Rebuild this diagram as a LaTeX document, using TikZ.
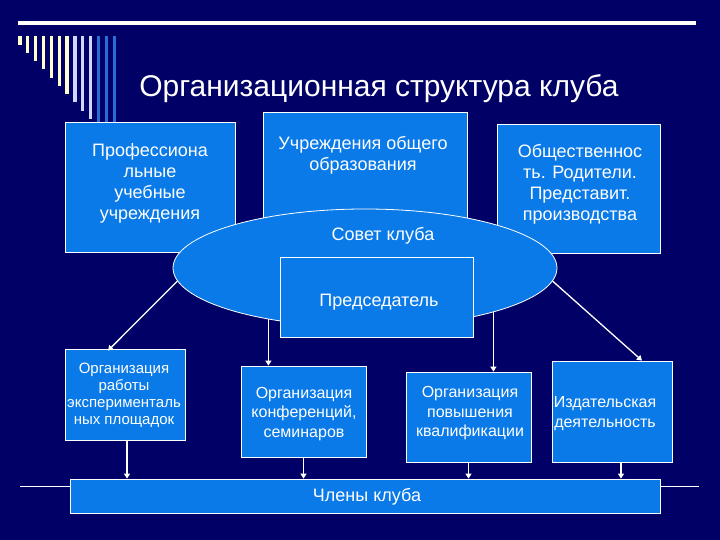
\documentclass[tikz,border=0pt]{standalone}
\usepackage{fontspec}
\setmainfont{Liberation Sans}
\usetikzlibrary{shapes.geometric,arrows.meta,calc}
\definecolor{bg}{RGB}{0,0,102}
\definecolor{boxblue}{RGB}{10,122,232}
\definecolor{pale}{RGB}{255,255,204}
\definecolor{lav}{RGB}{210,214,255}
\definecolor{stripeblue}{RGB}{40,110,215}
\begin{document}
\begin{tikzpicture}[x=1pt,y=-1pt,
  bluebox/.style={draw=white,line width=0.8pt,fill=boxblue,rectangle,inner sep=0pt},
  lbl/.style={text=white,align=center,inner sep=0pt,font=\fontsize{18}{21}\selectfont},
  smalllbl/.style={text=white,align=center,inner sep=0pt,font=\fontsize{16}{19.5}\selectfont},
  conn/.style={draw=white,line width=1.3pt,-{Triangle[width=6pt,length=5pt]}},
]
\fill[bg] (0,0) rectangle (720,540);
\useasboundingbox (0,0) rectangle (720,540);
% top line and stripes
\fill[white] (18,21.5) rectangle (696,25.5);
\foreach \i/\b/\c in {0/45/pale,1/53/pale,2/61/pale,3/69/pale,4/78/pale,5/86/pale,6/94/pale,7/102/lav,8/111/lav,9/119/lav,10/122/stripeblue,11/122/stripeblue,12/122/stripeblue}
  \fill[\c] ({18.3+7.85*\i},36) rectangle ++(3.3,{\b-36});
% title
\node[text=white,inner sep=0pt,font=\fontsize{30}{34}\selectfont] (title) at (379,89) {Организационная структура клуба};
% upper boxes
\node[bluebox,minimum width=170pt,minimum height=130pt] (b1) at (150,187) {};
\node[bluebox,minimum width=163pt,minimum height=129pt] (b3) at (578.5,188.5) {};
\node[bluebox,minimum width=204pt,minimum height=143pt] (b2) at (365,183.5) {};
\node[lbl] (t1) at (150,183.5) {Профессиона\\льные\\учебные\\учреждения};
\node[lbl] (t2) at (363,155.5) {Учреждения общего\\образования};
\node[lbl] (t3) at (580,184) {Общественнос\\ть. Родители.\\Представит.\\производства};
% council
\node[ellipse,draw=white,line width=0.8pt,fill=boxblue,inner sep=0pt,minimum width=384pt,minimum height=118pt] (ell) at (365,268) {};
\node[lbl] (tell) at (383,236) {Совет клуба};
\node[bluebox,minimum width=193pt,minimum height=80pt] (chair) at (376.5,297) {};
\node[lbl] (tchair) at (379,302) {Председатель};
% lower boxes
\node[bluebox,minimum width=120pt,minimum height=91pt] (bA) at (125,394.5) {};
\node[bluebox,minimum width=125pt,minimum height=91pt] (bB) at (303.5,411.5) {};
\node[bluebox,minimum width=125pt,minimum height=90pt] (bC) at (468.5,417) {};
\node[bluebox,minimum width=120pt,minimum height=101pt] (bD) at (612,411.5) {};
\node[text=white,align=center,inner sep=0pt,font=\fontsize{15}{17}\selectfont] (tA) at (124,395.5) {Организация\\работы\\эксперименталь\\ных площадок};
\node[smalllbl] (tB) at (304,414) {Организация\\конференций,\\семинаров};
\node[smalllbl] (tC) at (470,413.5) {Организация\\повышения\\квалификации};
\node[smalllbl,font=\fontsize{16}{20}\selectfont] (tD) at (605,414) {Издательская\\деятельность};
% members
\coordinate (hl) at (20,486);
\coordinate (hr) at (699,486);
\draw[white,line width=1pt] (hl) -- (hr);
\node[bluebox,minimum width=590pt,minimum height=34pt] (members) at (365,496) {};
\node[lbl] (tmembers) at (367,497) {Члены клуба};
% connectors
\draw[conn] (ell.184) -- ([xshift=-17pt,yshift=-2pt]bA.north);
\draw[conn] (ell.208) -- (ell.208 |- bB.north);
\draw[conn] (ell.-19.8) -- (ell.-19.8 |- bC.north);
\draw[conn] (ell.-4) -- ([xshift=30pt]bD.north);
\draw[conn] ([xshift=2pt]bA.south) -- ([xshift=2pt]bA.south |- members.north);
\draw[conn] (bB.south) -- (bB.south |- members.north);
\draw[conn] (bC.south) -- (bC.south |- members.north);
\draw[conn] ([xshift=9pt]bD.south) -- ([xshift=9pt]bD.south |- members.north);
\end{tikzpicture}
\end{document}
